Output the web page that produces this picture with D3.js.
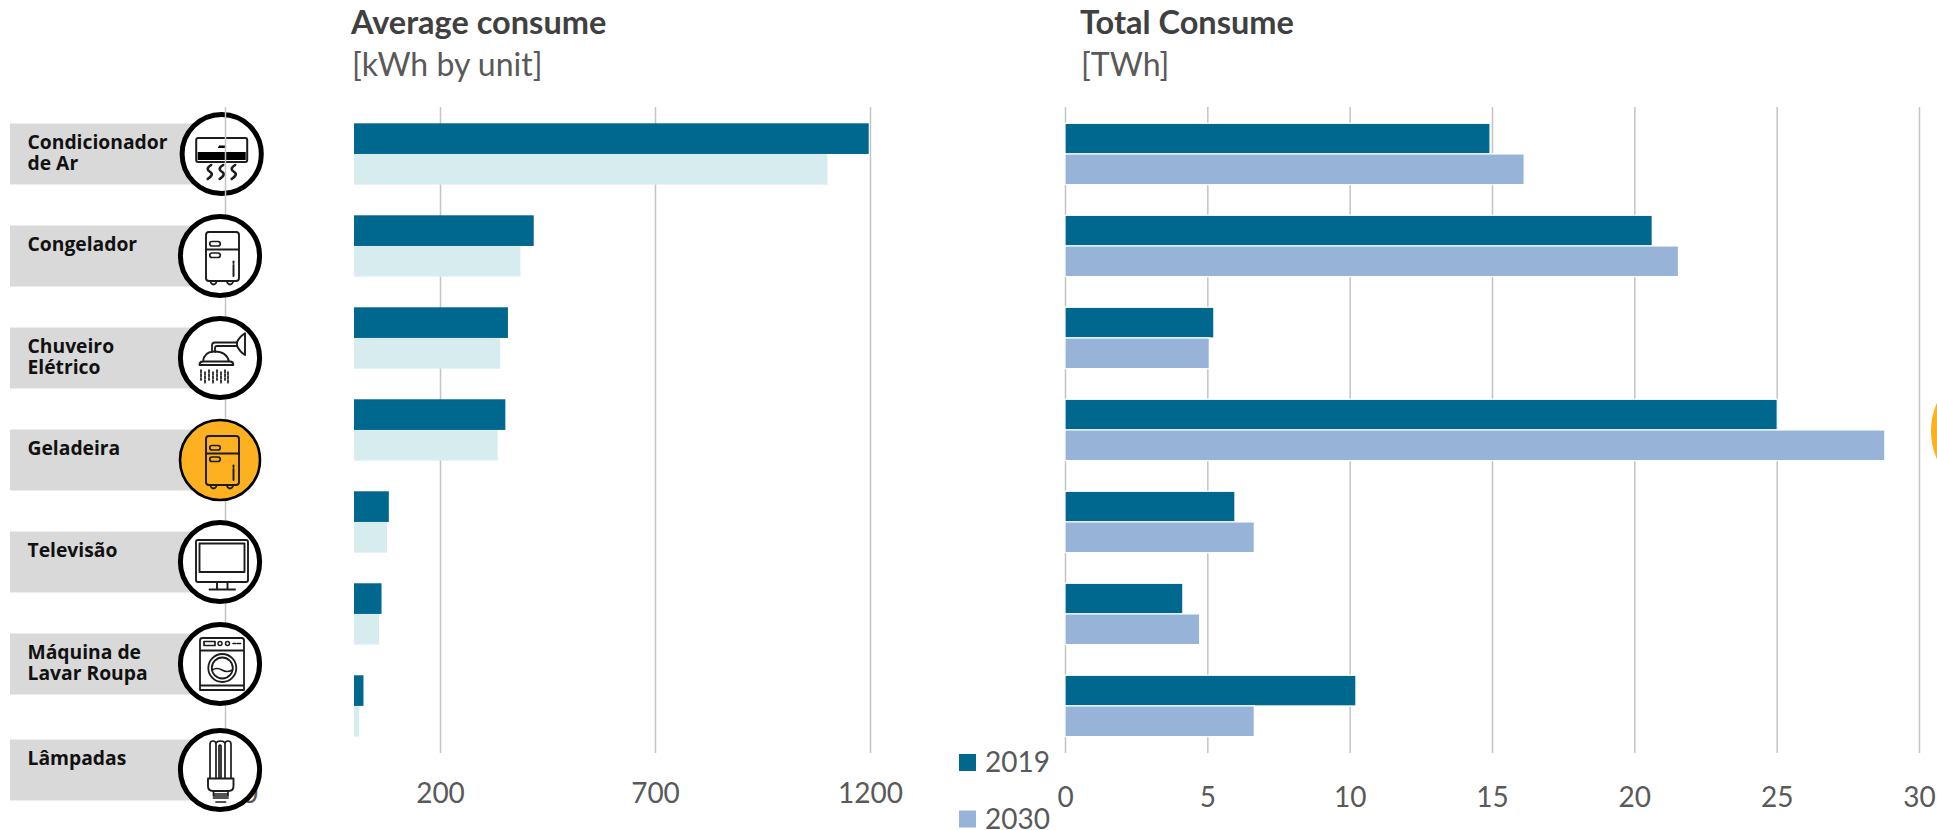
<!DOCTYPE html>
<html>
<head>
<meta charset="utf-8">
<script src="https://cdn.jsdelivr.net/npm/d3@7/dist/d3.min.js"></script>
<style>
  html, body { margin: 0; padding: 0; background: #fff; overflow: hidden; }
  svg { display: block; }
</style>
</head>
<body>
<svg id="chart" width="1937" height="830"></svg>
<script>
// Appliances, top to bottom
const categories = ["Condicionador de Ar", "Congelador", "Chuveiro Elétrico", "Geladeira", "Televisão", "Máquina de Lavar Roupa", "Lâmpadas"];
const categoryLines = [["Condicionador", "de Ar"], ["Congelador"], ["Chuveiro", "Elétrico"], ["Geladeira"], ["Televisão"], ["Máquina de", "Lavar Roupa"], ["Lâmpadas"]];
const iconNames = ["ac", "fridge", "shower", "fridge", "tv", "washer", "bulb"];

// Average consumption, kWh by unit
const average2019 = [1197, 418, 358, 352, 81, 64, 22];
const average2030 = [1101, 387, 340, 334, 77, 58, 12];

// Total consumption, TWh
const total2019 = [14.93, 20.63, 5.23, 25.02, 5.97, 4.14, 10.22];
const total2030 = [16.13, 21.55, 5.07, 28.8, 6.65, 4.73, 6.65];

const years = ["2019", "2030"];
const averageTicks = [-300, 200, 700, 1200];
const totalTicks = [0, 5, 10, 15, 20, 25, 30];

const DARK = "#00688F", PALE = "#D7ECEF", BLUE = "#97B4D8", GRID = "#C4C4C4";
const CHART_FONT = "Lato, sans-serif";

const svg = d3.select("#chart");

// Shared band scale: one group of two bars per appliance
const band = d3.scaleBand().domain(categories).range([123.3, 736.6]).paddingInner(1 / 3);
const halfBand = band.bandwidth() / 2;

const xAverage = d3.scaleLinear().domain([-300, 1200]).range([225, 870]);
const xTotal = d3.scaleLinear().domain([0, 30]).range([1065, 1919]);

// Rows of the icon column are spaced wider than the bar groups
const iconY = d3.scalePoint().domain(categories).range([154, 766]);
const iconCy = c => iconY(c) + (c === "Lâmpadas" ? 4 : 0);

const INK = "#1c1c1c";

// Line-art icons, drawn around the centre of their circle
const iconDrawers = {
  ac(g) {
    line(g, "M-25.5,-14 q0,-2 2,-2 h47 q2,0 2,2 v20 q0,2 -2,2 h-47 q-2,0 -2,-2 z", 2);
    g.append("rect").attr("x", -24).attr("y", -2).attr("width", 48).attr("height", 8).attr("fill", "#000");
    g.append("path").attr("d", "M-4,-6 l1.5,-2.5 h6.5 v2.5 z").attr("fill", "#000");
    [-12, 0, 12].forEach(dx => line(g, `M${dx + 1.5},11 c-5,3 -4,5 -1,7 c3,2 1.5,4 -2.5,7`, 2.6));
  },
  fridge(g) {
    line(g, "M-14,-21 q0,-3 3,-3 h27 q3,0 3,3 v43 q0,3 -3,3 h-27 q-3,0 -3,-3 z", 1.9);
    line(g, "M-14,-6.5 H19", 1.9);
    line(g, "M-8,-14.5 h6 a2,2 0 0 1 0,4.5 h-6 a2,2 0 0 1 0,-4.5 z", 1.7);
    line(g, "M-8,-3 h6 a2,2 0 0 1 0,4.5 h-6 a2,2 0 0 1 0,-4.5 z", 1.7);
    line(g, "M13.5,9 V20", 1.9);
    line(g, "M13.5,5.5 V7", 1.9);
    line(g, "M-9.5,25 a3,3.5 0 0 0 6,0 M7,25 a3,3.5 0 0 0 6,0", 1.8);
  },
  shower(g) {
    line(g, "M25,-24.7 Q20,-22 17,-16 V-12 Q20,-6 25,-3 z", 1.9);
    line(g, "M17,-15.5 H-5 q-3,0 -3,3 V-6 M17,-12 H-3 q-2,0 -2,2 V-6", 1.8);
    line(g, "M-17,3.5 q1,-9.5 10.5,-10 q13,-0.5 15.5,10 M-20.5,7 q0,-3.5 3,-3.5 H10 q3.3,0 3.3,3.5 z", 1.9);
    [-19, -15, -11, -7, -3, 1, 5, 8].forEach((dx, i) => {
      line(g, `M${dx},${12 + (i % 2) * 2} V${22 + (i % 2) * 4}`, 1.7).attr("stroke-dasharray", "2.5 1.6");
    });
  },
  tv(g) {
    line(g, "M-24,-20 q0,-2 2,-2 h48 q2,0 2,2 v38 q0,2 -2,2 h-48 q-2,0 -2,-2 z", 1.9);
    line(g, "M-20.5,-18.5 H24.5 V10 H-20.5 z", 1.9);
    line(g, "M-3,20 V27 M7.5,20 V27 M-10.5,27.5 H15", 1.9);
  },
  washer(g) {
    line(g, "M-20,-23.5 q0,-2.5 2.5,-2.5 h39 q2.5,0 2.5,2.5 v45 h-44 z M-20,-13.5 H24 M-20,21.5 v4.5 H24 v-4.5", 1.8);
    line(g, "M-16,-22.5 H-5 V-18.5 H-16 z", 1.7);
    g.append("circle").attr("cx", 0).attr("cy", -20.5).attr("r", 2).attr("fill", "none").attr("stroke", INK).attr("stroke-width", 1.5);
    g.append("circle").attr("cx", 7.5).attr("cy", -20.5).attr("r", 2).attr("fill", "none").attr("stroke", INK).attr("stroke-width", 1.5);
    line(g, "M13,-20.5 H16 M17.5,-20.5 H20.5", 1.6);
    g.append("circle").attr("cx", 2.3).attr("cy", 4).attr("r", 14).attr("fill", "none").attr("stroke", INK).attr("stroke-width", 1.8);
    g.append("circle").attr("cx", 2.3).attr("cy", 4).attr("r", 10.5).attr("fill", "none").attr("stroke", INK).attr("stroke-width", 1.8);
    line(g, "M-8,6 q5,-3 10,0 q5,3 10.5,0", 1.5);
  },
  bulb(g) {
    line(g, "M-10,8 V-26 q0,-3 3,-3 q3,0 3,3 V8 M-4,-27 q1,-2 4.5,-2 q3.5,0 4.5,2 V8 M-1,8 V-24 q1,-2 2,0 V8 M5,-26 q0,-3 3,-3 q3,0 3,3 V8", 1.7);
    line(g, "M-12,8.5 H13.5 V16 q0,5 -5,5 H-7 q-5,0 -5,-5 z", 1.9);
    line(g, "M-6.5,21 V26 H8 V21 M-6.5,24 H8 M-6.5,28 H8 M-4,32 H5.5", 1.7);
  }
};

function line(g, d, width) {
  return g.append("path").attr("d", d).attr("fill", "none").attr("stroke", INK)
    .attr("stroke-width", width).attr("stroke-linejoin", "round").attr("stroke-linecap", "round");
}

function drawIcon(parent, category, index) {
  const orange = category === "Geladeira";
  const cx = index === 0 ? 221.7 : 220;
  const g = parent.append("g").attr("transform", `translate(${cx},${iconCy(category)})`);
  g.append("circle")
    .attr("r", orange ? 40 : 39.6)
    .attr("fill", orange ? "#FDB121" : "#fff")
    .attr("stroke", "#000")
    .attr("stroke-width", orange ? 2.6 : 5);
  iconDrawers[iconNames[index]](g);
}

// Grey label tabs behind the icon column
const tabs = svg.append("g");
categories.forEach((c, i) => {
  const cy = iconCy(c);
  tabs.append("rect").attr("x", 10).attr("y", cy - 30.5).attr("width", 185).attr("height", 61).attr("fill", "#D9D9D9");
  categoryLines[i].forEach((t, j) => {
    tabs.append("text")
      .attr("x", 27.5)
      .attr("y", cy - 5.5 + j * 21)
      .attr("font-family", "'Open Sans', sans-serif")
      .attr("font-weight", 700)
      .attr("font-size", 19.3)
      .attr("fill", "#111")
      .text(t);
  });
});

// The first icon sits under the axis line, the others above it
drawIcon(svg.append("g"), categories[0], 0);

function drawAxis(scale, ticks, labelY) {
  const axis = d3.axisBottom(scale).tickValues(ticks).tickFormat(d3.format("d"))
    .tickSize(-646).tickPadding(0);
  const g = svg.append("g").attr("transform", "translate(0,753)").call(axis);
  g.select(".domain").remove();
  g.selectAll(".tick line").attr("stroke", GRID).attr("stroke-width", 1.5);
  g.selectAll(".tick text")
    .attr("y", labelY - 753)
    .attr("dy", "0.35em")
    .attr("fill", "#595959")
    .attr("font-family", CHART_FONT)
    .attr("font-size", 28);
  return g;
}

drawAxis(xAverage, averageTicks, 793);
drawAxis(xTotal, totalTicks, 797);

function drawBars(scale, values, color, offset, bordered) {
  svg.append("g").selectAll("rect").data(values).join("rect")
    .attr("x", scale(0))
    .attr("y", (d, i) => band(categories[i]) + offset)
    .attr("width", d => scale(d) - scale(0))
    .attr("height", halfBand)
    .attr("fill", color)
    .attr("stroke", bordered ? "#fff" : "none")
    .attr("stroke-width", bordered ? 1.2 : 0);
}

drawBars(xAverage, average2030, PALE, halfBand, false);
drawBars(xAverage, average2019, DARK, 0, false);
drawBars(xTotal, total2019, DARK, 0, true);
drawBars(xTotal, total2030, BLUE, halfBand, true);

// Remaining icons cover the axis line and the first tick label
const iconLayer = svg.append("g");
categories.slice(1).forEach((c, i) => drawIcon(iconLayer, c, i + 1));

// Headings
function heading(x, y, text, weight) {
  svg.append("text").attr("x", x).attr("y", y).attr("font-family", CHART_FONT)
    .attr("font-size", weight === 700 ? 32.5 : 32).attr("font-weight", weight)
    .attr("fill", weight === 700 ? "#404040" : "#595959").text(text);
}
heading(351, 34, "Average consume", 700);
heading(352, 76, "[kWh by unit]", 400);
heading(1080, 34, "Total Consume", 700);
heading(1081, 76, "[TWh]", 400);

// Legend
const legend = svg.append("g");
years.forEach((y, i) => {
  const row = legend.append("g").attr("transform", `translate(959,${i === 0 ? 754 : 810.5})`);
  row.append("rect").attr("width", 17).attr("height", 17).attr("fill", i === 0 ? DARK : BLUE);
  row.append("text").attr("x", 26).attr("y", 8.5).attr("dy", "0.35em")
    .attr("font-family", CHART_FONT).attr("font-size", 28).attr("fill", "#595959").text(y);
});

// Orange disc running off the right edge
svg.append("circle").attr("cx", 2001).attr("cy", 431).attr("r", 70).attr("fill", "#FDB121");
</script>
</body>
</html>
